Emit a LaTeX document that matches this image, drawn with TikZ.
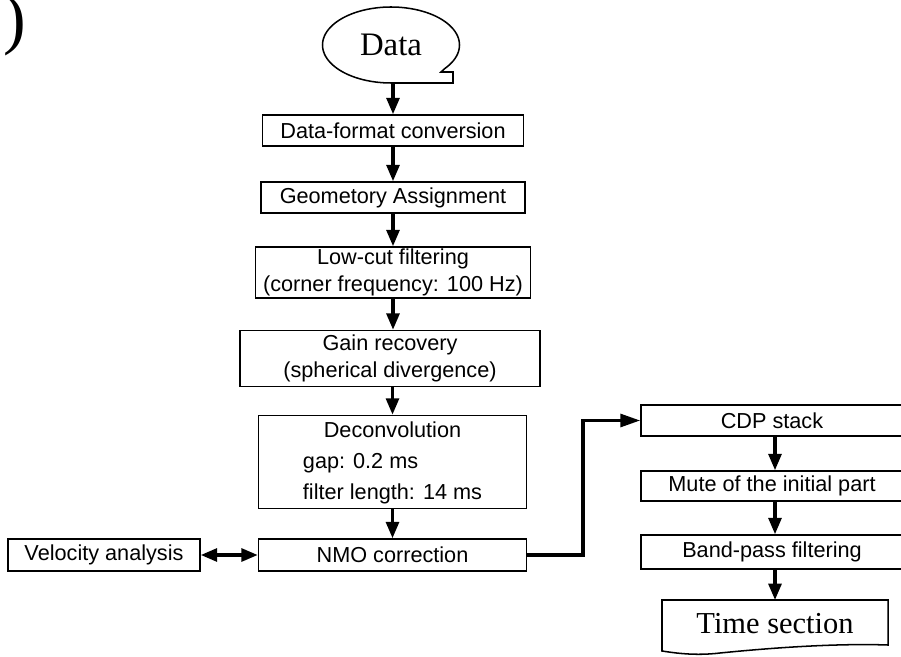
\documentclass[tikz,border=0pt]{standalone}
\usepackage{fontspec}
\setmainfont{Liberation Serif}
\setsansfont{Liberation Sans}
\usetikzlibrary{arrows.meta,shapes.geometric}
\begin{document}
\begin{tikzpicture}[x=0.03cm,y=-0.03cm,
  box/.style={draw, line width=1.3pt, font=\sffamily\fontsize{18.5}{20}\selectfont, inner sep=0pt, align=center},
  flow/.style={line width=2.8pt, -{Triangle[length=14pt,width=11pt]}},
  both/.style={line width=2.8pt, {Triangle[length=14pt,width=11pt]}-{Triangle[length=14pt,width=11pt]}},
  serifbig/.style={font=\rmfamily\fontsize{26}{30}\selectfont, inner sep=0pt},
]
\useasboundingbox (0,0) rectangle (901,657);
\clip (0,0) rectangle (901,657);

% corner label
\node[anchor=base west, inner sep=0pt, font=\rmfamily\fontsize{58}{58}\selectfont] (lbl) at (3,42) {)};

% Data (tape-like terminal)
\node[serifbig, font=\rmfamily\fontsize{28}{30}\selectfont, ellipse, minimum width=137*0.03cm, minimum height=76*0.03cm] (data) at (391,45) {Data};
\draw[line width=1.3pt] plot[domain=90:398, samples=90, variable=\t] ({391+68.5*cos(\t)}, {45+38*sin(\t)})
  -- (441,72) -- (453,72) -- (453,83) -- (391,83);

% left column
\node[box, minimum width=261*0.03cm, minimum height=31*0.03cm] (dfc) at (393,130.5) {Data-format conversion};
\node[box, minimum width=264*0.03cm, minimum height=31*0.03cm] (geo) at (393,197.5) {Geometory Assignment};
\node[box, minimum width=275*0.03cm, minimum height=51*0.03cm, font=\sffamily\fontsize{18.5}{22.5}\selectfont] (low) at (393,272.5) {Low-cut filtering\\(corner frequency: 100 Hz)};
\node[box, minimum width=300*0.03cm, minimum height=56*0.03cm, font=\sffamily\fontsize{18.5}{22.5}\selectfont] (gain) at (390,358.5) {Gain recovery\\(spherical divergence)};
\node[box, minimum width=268*0.03cm, minimum height=86*0.03cm, font=\sffamily\fontsize{18.5}{26.5}\selectfont] (dec) at (392.5,462)
  {\begin{tabular}{@{}l@{}}\multicolumn{1}{@{}c@{}}{Deconvolution}\\gap: 0.2 ms\\filter length: 14 ms\end{tabular}};
\node[box, minimum width=268*0.03cm, minimum height=32*0.03cm] (nmo) at (392.5,555) {NMO correction};
\node[box, minimum width=192*0.03cm, minimum height=32*0.03cm] (vel) at (104,555) {Velocity analysis};

% right column
\node[box, minimum width=262*0.03cm, minimum height=31*0.03cm] (cdp) at (772,420.5) {CDP stack};
\node[box, minimum width=262*0.03cm, minimum height=30*0.03cm] (mute) at (772,486) {Mute of the initial part};
\node[box, minimum width=262*0.03cm, minimum height=34*0.03cm] (band) at (772,552) {Band-pass filtering};

% Time section (document shape)
\node[serifbig, minimum width=226*0.03cm, minimum height=48*0.03cm] (time) at (775,624) {Time section};
\draw[line width=1.3pt] (662,600) -- (888,600) -- (888,645)
  .. controls (830,643) and (760,649) .. (720,653)
  .. controls (695,656) and (675,653) .. (662,651) -- cycle;

% connectors
\draw[flow] (data.south -| dfc.north) -- (dfc.north);
\draw[flow] (dfc) -- (geo);
\draw[flow] (geo) -- (low);
\draw[flow] (low.south) -- (low.south |- gain.north);
\draw[flow] (gain.south -| dec.north) -- (dec.north);
\draw[flow] (dec) -- (nmo);
\draw[both] (vel) -- (nmo);
\coordinate (bend) at (583,0);
\draw[line width=2.8pt, -{Triangle[length=17pt,width=11pt]}] (nmo.east) -- (nmo.east -| bend) -- (bend |- cdp.west) -- (cdp.west);
\draw[flow] (cdp.south -| time.north) -- (mute.north -| time.north);
\draw[flow] (mute.south -| time.north) -- (band.north -| time.north);
\draw[flow] (band.south -| time.north) -- (662,600 -| time.north);
\end{tikzpicture}
\end{document}
